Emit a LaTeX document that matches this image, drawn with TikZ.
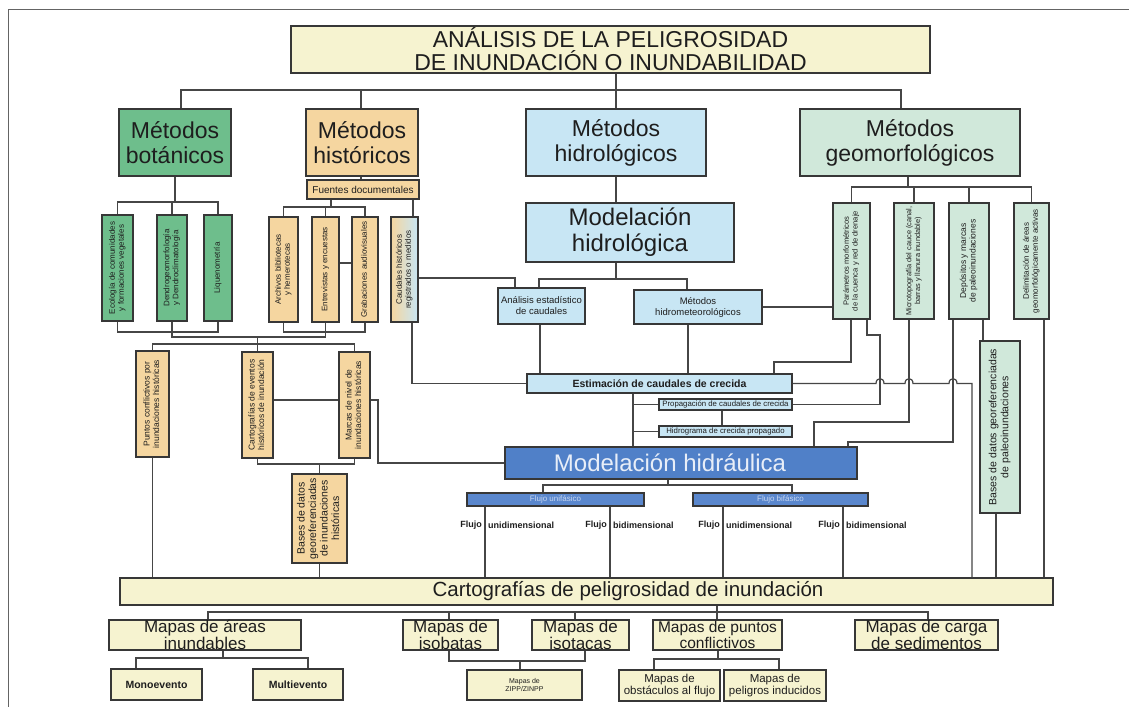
\documentclass[tikz,border=0pt]{standalone}
\usepackage{fontspec}
\setmainfont{Liberation Sans}
\usepackage{graphicx}
\definecolor{greenf}{RGB}{110,190,140}
\definecolor{tanf}{RGB}{245,214,160}
\definecolor{bluef}{RGB}{200,230,244}
\definecolor{geof}{RGB}{208,232,218}
\definecolor{yellf}{RGB}{246,243,208}
\definecolor{hidrf}{RGB}{80,128,200}
\definecolor{flujf}{RGB}{90,135,205}
\definecolor{bordc}{RGB}{55,55,55}
\definecolor{linec}{RGB}{70,70,70}
\definecolor{txtc}{RGB}{30,30,30}
\definecolor{framec}{RGB}{100,100,100}
\definecolor{lighttxt}{RGB}{232,238,248}
\definecolor{flujt}{RGB}{200,215,240}
\newcommand\fsz[2]{\fontsize{#1}{#2}\selectfont}
\newcommand\vtxt[1]{\rotatebox{90}{\begin{tabular}{@{}c@{}}#1\end{tabular}}}
\newcommand\bx[7]{\node[#6,minimum width={(#4)-(#2)},minimum height={(#5)-(#3)}] (#1) at ({((#2)+(#4))/2},{((#3)+(#5))/2}) {#7};}
\begin{document}
\begin{tikzpicture}[x=1pt,y=-1pt,
  box/.style={draw=bordc,line width=1.2pt,inner sep=0pt,align=center,text=txtc},
  conn/.style={draw=linec,line width=1.2pt},
  lbl/.style={inner sep=0pt,text=txtc,font=\bfseries\fsz{9}{10}},
  big/.style={font=\fsz{23}{25}},
  mapa/.style={box,fill=yellf,font=\fsz{17}{14.5}},
  vsm/.style={font=\fsz{8}{9}}]
\useasboundingbox[fill=white] (0,0) rectangle (1129,707);
\draw[framec,line width=1pt] (1129,9) -- (8,9) -- (8,707);

% --- top level
\bx{title}{291}{26}{930}{73}{box,fill=yellf,font=\fsz{23}{23}}{ANÁLISIS DE LA PELIGROSIDAD\\DE INUNDACIÓN O INUNDABILIDAD}
\bx{bot}{119}{109}{231}{176}{box,fill=greenf,big}{Métodos\\botánicos}
\bx{his}{306}{109}{418}{176}{box,fill=tanf,big}{Métodos\\históricos}
\bx{hid}{526}{109}{706}{176}{box,fill=bluef,big}{Métodos\\hidrológicos}
\bx{geo}{800}{109}{1020}{176}{box,fill=geof,big}{Métodos\\geomorfológicos}
\bx{fuen}{307}{180}{419}{199}{box,fill=tanf,font=\fsz{10}{11}}{Fuentes documentales}

% --- vertical boxes under botanic / historic
\bx{eco}{102}{215}{133}{321}{box,fill=greenf,vsm}{\vtxt{Ecología de comunidades\\y formaciones vegetales}}
\bx{dendro}{157}{215}{187}{321}{box,fill=greenf,vsm}{\vtxt{Dendrogeomorfología\\y Dendroclimatología}}
\bx{liq}{204}{215}{232}{321}{box,fill=greenf,vsm}{\vtxt{Liquenometría}}
\bx{arch}{269}{217}{298}{322}{box,fill=tanf,vsm}{\vtxt{Archivos bibliotecas\\y hemerotecas}}
\bx{entr}{312}{217}{339}{322}{box,fill=tanf,vsm}{\vtxt{Entrevistas y encuestas}}
\bx{grab}{352}{217}{378}{322}{box,fill=tanf,vsm}{\vtxt{Grabaciones audiovisuales}}
\bx{caud}{391}{217}{418}{322}{box,left color=tanf,right color=bluef,vsm}{\vtxt{Caudales históricos\\registrados o medidos}}

% --- hydrologic
\bx{mhl}{526}{203}{734}{262}{box,fill=bluef,font=\fsz{24}{26}}{Modelación\\hidrológica}
\bx{anal}{498}{288}{585}{324}{box,fill=bluef,font=\fsz{9.5}{11}}{Análisis estadístico\\de caudales}
\bx{hmet}{634}{290}{762}{324}{box,fill=bluef,font=\fsz{9.5}{11}}{Métodos\\hidrometeorológicos}

% --- geomorphologic
\bx{par}{833}{203}{870}{319}{box,fill=geof,font=\fsz{7.6}{8.6}}{\vtxt{Parámetros morfométricos\\de la cuenca y red de drenaje}}
\bx{micro}{894}{203}{934}{319}{box,fill=geof,font=\fsz{7.4}{8.6}}{\vtxt{Microtopografía del cauce (canal,\\barras y llanura inundable)}}
\bx{depo}{949}{203}{989}{319}{box,fill=geof,font=\fsz{8.5}{9.5}}{\vtxt{Depósitos y marcas\\de paleoinundaciones}}
\bx{delim}{1014}{203}{1049}{319}{box,fill=geof,font=\fsz{8}{9}}{\vtxt{Delimitación de áreas\\geomorfológicamente activas}}
\bx{basp}{980}{341}{1020}{513}{box,fill=geof,font=\fsz{10.5}{12}}{\vtxt{Bases de datos georeferenciadas\\de paleoinundaciones}}

% --- historic results
\bx{punt}{136}{351}{169}{457}{box,fill=tanf,font=\fsz{8.5}{9.5}}{\vtxt{Puntos conflictivos por\\inundaciones históricas}}
\bx{ceve}{242}{352}{273}{458}{box,fill=tanf,font=\fsz{8.5}{9.5}}{\vtxt{Cartografías de eventos\\históricos de inundación}}
\bx{marc}{339}{352}{370}{458}{box,fill=tanf,font=\fsz{8.5}{9.5}}{\vtxt{Marcas de nivel de\\inundaciones históricas}}
\bx{bash}{292}{474}{347}{563}{box,fill=tanf,font=\fsz{10.5}{11.5}}{\vtxt{Bases de datos\\georeferenciadas\\de inundaciones\\históricas}}

% --- estimation / hydraulic
\bx{est}{527}{374}{792}{393}{box,fill=bluef,font=\bfseries\fsz{10.5}{12}}{Estimación de caudales de crecida}
\bx{prop}{659}{399}{792}{410}{box,fill=bluef,font=\fsz{7.8}{8}}{Propagación de caudales de crecida}
\bx{hgr}{659}{426}{792}{437}{box,fill=bluef,font=\fsz{7.8}{8}}{Hidrograma de crecida propagado}
\bx{mhr}{505}{447}{857}{479}{box,fill=hidrf,text=lighttxt,font=\fsz{24}{26}}{Modelación hidráulica\hspace*{22pt}}
\bx{fu}{467}{493}{644}{506}{box,fill=flujf,text=flujt,font=\fsz{8}{9}}{Flujo unifásico}
\bx{fb}{693}{493}{868}{506}{box,fill=flujf,text=flujt,font=\fsz{8}{9}}{Flujo bifásico}

\node[lbl,anchor=east] (f1a) at (482,525) {Flujo};
\node[lbl,anchor=west] (f1b) at (488,525) {unidimensional};
\node[lbl,anchor=east] (f2a) at (607,525) {Flujo};
\node[lbl,anchor=west] (f2b) at (613,525) {bidimensional};
\node[lbl,anchor=east] (f3a) at (720,525) {Flujo};
\node[lbl,anchor=west] (f3b) at (726,525) {unidimensional};
\node[lbl,anchor=east] (f4a) at (840,525) {Flujo};
\node[lbl,anchor=west] (f4b) at (846,525) {bidimensional};

% --- cartography
\bx{cart}{120}{578}{1053}{605}{box,fill=yellf,font=\fsz{20.5}{22}}{\hspace*{83pt}Cartografías de peligrosidad de inundación}
\bx{mar}{109}{620}{301}{650}{mapa}{Mapas de áreas\\inundables}
\bx{mib}{403}{620}{498}{650}{mapa}{Mapas de\\isobatas}
\bx{mit}{532}{620}{629}{650}{mapa}{Mapas de\\isotacas}
\bx{mpu}{653}{620}{782}{650}{mapa,font=\fsz{15.5}{14}}{Mapas de puntos\\conflictivos}
\bx{mca}{855}{620}{998}{650}{mapa}{Mapas de carga\\de sedimentos}
\bx{mono}{111}{669}{202}{700}{box,fill=yellf,font=\bfseries\fsz{10.5}{12}}{Monoevento}
\bx{multi}{253}{669}{343}{700}{box,fill=yellf,font=\bfseries\fsz{10.5}{12}}{Multievento}
\bx{zipp}{467}{670}{582}{700}{box,fill=yellf,font=\fsz{7}{8}}{Mapas de\\ZIPP/ZINPP}
\bx{obst}{619}{670}{720}{701}{box,fill=yellf,font=\fsz{11.5}{12}}{Mapas de\\obstáculos al flujo}
\bx{pelig}{724}{670}{826}{701}{box,fill=yellf,font=\fsz{11.5}{12}}{Mapas de\\peligros inducidos}

% ================= connectors
\draw[conn] (title.south -| 616,0) -- (hid.north -| 616,0);
\draw[conn] (bot.north -| 181,0) -- (181,90) -- (901,90) -- (geo.north -| 901,0);
\draw[conn] (361,90) -- (his.north -| 361,0);
\draw[conn] (his.south -| 361,0) -- (fuen.north -| 361,0);

\draw[conn] (bot.south) -- (bot.south |- 0,202);
\draw[conn] (eco.north) -- (eco.north |- 0,202) -- (liq.north |- 0,202) -- (liq.north);
\draw[conn] (dendro.north) -- (dendro.north |- 0,202);

\draw[conn] (fuen.south -| 331,0) -- (331,207);
\draw[conn] (arch.north) -- (arch.north |- 0,207) -- (grab.north |- 0,207) -- (grab.north);
\draw[conn] (entr.north) -- (entr.north |- 0,207);
\draw[conn] (fuen.south -| 413,0) -- (caud.north -| 413,0);
\draw[conn] (entr.east |- 0,263) -- (grab.west |- 0,263);

\draw[conn] (hid.south) -- (mhl.north -| hid.south);
\draw[conn] (mhl.south -| 616,0) -- (616,279);
\draw[conn] (anal.north -| 539,0) -- (539,279) -- (687,279) -- (hmet.north -| 687,0);
\draw[conn] (caud.east |- 0,278) -- (515,278) -- (anal.north -| 515,0);
\draw[conn] (anal.south -| 540,0) -- (est.north -| 540,0);
\draw[conn] (hmet.south -| 688,0) -- (est.north -| 688,0);
\draw[conn] (hmet.east |- 0,307) -- (par.west |- 0,307);
\draw[conn] (caud.south -| 412,0) |- (est.west);

\draw[conn] (geo.south -| 908,0) -- (908,187);
\draw[conn] (par.north) |- (delim.north |- 0,187) -- (delim.north);
\draw[conn] (micro.north) -- (micro.north |- 0,187);
\draw[conn] (depo.north) -- (depo.north |- 0,187);

\draw[conn] (par.south -| 851,0) -- (851,362) -- (774,362) -- (est.north -| 774,0);
\draw[conn] (par.south -| 867,0) -- (867,335) -- (880,335) |- (prop.east);
\draw[conn] (micro.south -| 909,0) -- (909,422) -- (814,422) -- (mhr.north -| 814,0);
\draw[conn] (depo.south -| 953,0) -- (953,442) -- (848,442) -- (mhr.north -| 848,0);
\draw[conn] (depo.south -| 983,0) -- (basp.north -| 983,0);
\draw[conn] (delim.south -| 1044,0) -- (cart.north -| 1044,0);
\draw[conn] (basp.south -| 996,0) -- (cart.north -| 996,0);
\draw[conn] (est.east) -- (876,383.5) .. controls (876,377) and (884,377) .. (884,383.5)
  -- (905,383.5) .. controls (905,377) and (913,377) .. (913,383.5)
  -- (949,383.5) .. controls (949,377) and (957,377) .. (957,383.5)
  -- (972,383.5) -- (cart.north -| 972,0);

\draw[conn] (est.south -| 633,0) -- (mhr.north -| 633,0);
\draw[conn] (prop.west -| 633,0) -- (prop.west);
\draw[conn] (hgr.west -| 633,0) -- (hgr.west);
\draw[conn] (prop.south -| 722,0) -- (hgr.north -| 722,0);

\draw[conn] (marc.east |- 0,400) -- (378,400) |- (mhr.west);
\draw[conn] (ceve.east |- 0,400) -- (marc.west |- 0,400);

\draw[conn] (eco.south) -- (eco.south |- 0,332) -- (liq.south |- 0,332) -- (liq.south);
\draw[conn] (arch.south) -- (arch.south |- 0,332) -- (grab.south |- 0,332) -- (grab.south);
\draw[conn] (dendro.south) -- (dendro.south |- 0,337) -- (entr.south |- 0,337) -- (entr.south);
\draw[conn] (ceve.north |- 0,337) -- (ceve.north);
\draw[conn] (punt.north) -- (punt.north |- 0,344) -- (marc.north |- 0,344) -- (marc.north);

\draw[conn] (ceve.south) -- (ceve.south |- 0,464) -- (marc.south |- 0,464) -- (marc.south);
\draw[conn] (bash.north) -- (bash.north |- 0,464);
\draw[conn] (bash.south) -- (cart.north -| bash.south);
\draw[conn] (punt.south) -- (cart.north -| punt.south);

\draw[conn] (mhr.south -| 668,0) -- (668,485);
\draw[conn] (fu.north -| 543,0) -- (543,485) -- (792,485) -- (fb.north -| 792,0);
\draw[conn] (fu.south -| 485,0) -- (cart.north -| 485,0);
\draw[conn] (fu.south -| 610,0) -- (cart.north -| 610,0);
\draw[conn] (fb.south -| 723,0) -- (cart.north -| 723,0);
\draw[conn] (fb.south -| 843,0) -- (cart.north -| 843,0);

\draw[conn] (cart.south -| 717,0) -- (717,612);
\draw[conn] (mar.north -| 208,0) -- (208,612) -- (928,612) -- (mca.north -| 928,0);
\draw[conn] (mib.north -| 449,0) -- (449,612);
\draw[conn] (mit.north -| 575,0) -- (575,612);
\draw[conn] (mpu.north -| 717,0) -- (717,612);
\draw[conn] (mar.south -| 223,0) -- (223,658);
\draw[conn] (mono.north -| 136,0) -- (136,658) -- (308,658) -- (multi.north -| 308,0);
\draw[conn] (mib.south -| 449,0) -- (449,661) -- (585,661) -- (mit.south -| 585,0);
\draw[conn] (zipp.north -| 520,0) -- (520,661);
\draw[conn] (mpu.south -| 718,0) -- (718,659);
\draw[conn] (obst.north -| 654,0) -- (654,659) -- (779,659) -- (pelig.north -| 779,0);
\end{tikzpicture}
\end{document}
